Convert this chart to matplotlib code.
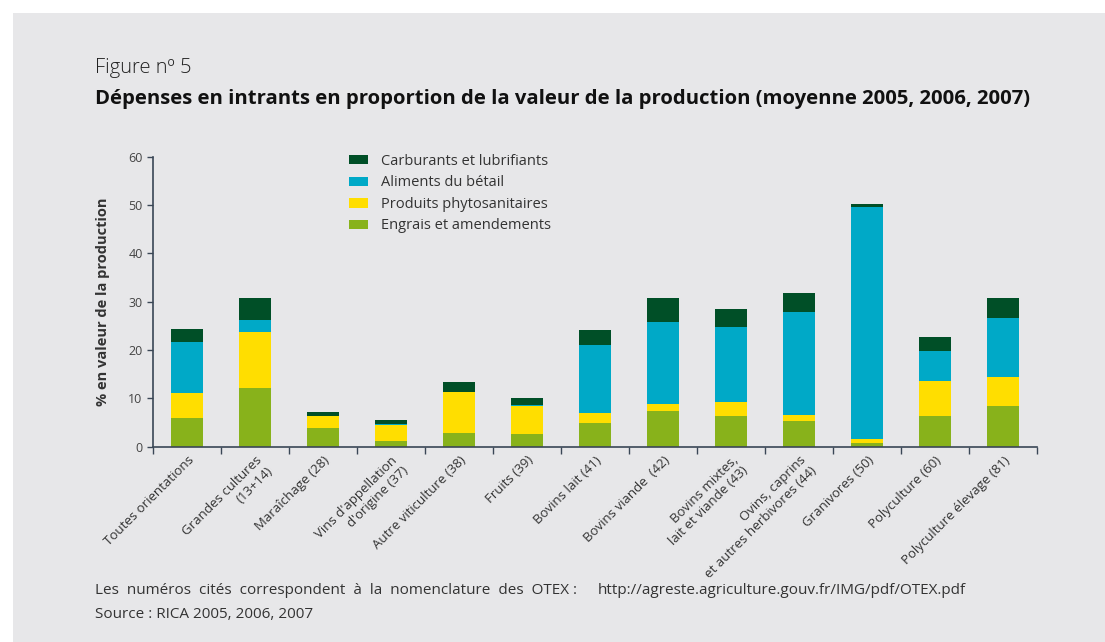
import numpy as np
import matplotlib.pyplot as plt
from matplotlib.patches import Rectangle

# categories (OTEX)
categories = ['Toutes orientations', 'Grandes cultures\n(13+14)', 'Maraîchage (28)',
              "Vins d'appellation\nd'origine (37)", 'Autre viticulture (38)', 'Fruits (39)',
              'Bovins lait (41)', 'Bovins viande  (42)', 'Bovins mixtes,\nlait et viande (43)',
              'Ovins, caprins\net autres herbivores (44)', 'Granivores (50)',
              'Polyculture (60)', 'Polyculture élevage (81)']

# % of production value
engrais = [6.0, 12.1, 3.9, 1.2, 2.8, 2.6, 4.9, 7.4, 6.35, 5.3, 0.8, 6.35, 8.4]
phyto = [5.1, 11.6, 2.5, 3.3, 8.5, 5.9, 2.1, 1.45, 2.9, 1.25, 0.8, 7.25, 6.0]
aliments = [10.6, 2.5, 0.0, 0.2, 0.0, 0.2, 14.0, 16.95, 15.5, 21.3, 47.95, 6.2, 12.2]
carburants = [2.7, 4.5, 0.8, 0.8, 2.1, 1.4, 3.1, 4.95, 3.75, 3.95, 0.65, 2.9, 4.15]

series = [('Engrais et amendements', engrais, '#88b21b'),
          ('Produits phytosanitaires', phyto, '#ffde00'),
          ('Aliments du bétail', aliments, '#00a9c7'),
          ('Carburants et lubrifiants', carburants, '#004f27')]

plt.rcParams['font.family'] = ['Open Sans', 'DejaVu Sans']
bg = '#e7e7e9'
txt = '#333333'
axcol = '#3a4756'

fig = plt.figure(figsize=(11.05, 6.42), dpi=100)
fig.patch.set_facecolor('white')
fig.patches.append(Rectangle((13 / 1105, 0), 1, 1 - 13 / 642, transform=fig.transFigure,
                             facecolor=bg, edgecolor='none', zorder=-10))

ax = fig.add_axes([153 / 1105, 195.3 / 642, 884 / 1105, 290 / 642])
ax.set_facecolor(bg)

x = np.arange(len(categories))
bottom = np.zeros(len(categories))
handles = []
for name, vals, col in series:
    b = ax.bar(x, vals, 0.46, bottom=bottom, color=col, label=name, zorder=2)
    handles.append(b)
    bottom += np.array(vals)

ax.set_xlim(-0.5, len(categories) - 0.5)
ax.set_ylim(0, 60)
ax.set_yticks(range(0, 61, 10))
ax.tick_params(axis='y', labelsize=9, colors=axcol, labelcolor='#444444', length=4, width=1)

ax.set_xticks(x)
ax.set_xticklabels(categories, rotation=45, ha='right', rotation_mode='anchor',
                   fontsize=9.5, color=txt, multialignment='right')
ax.tick_params(axis='x', length=0, pad=5)
ax.set_xticks(np.arange(-0.5, len(categories)), minor=True)
ax.tick_params(axis='x', which='minor', length=5, width=1, colors=axcol, direction='out')

for s in ['top', 'right']:
    ax.spines[s].set_visible(False)
for s in ['left', 'bottom']:
    ax.spines[s].set_color(axcol)
    ax.spines[s].set_linewidth(1.2)

ax.set_ylabel('% en valeur de la production', fontsize=10.5, fontweight='bold', color=txt, labelpad=13)

ax.legend(handles[::-1], [h.get_label() for h in handles[::-1]], loc='upper left',
          bbox_to_anchor=(0.222, 1.01), frameon=False, fontsize=10.5, labelcolor=txt,
          borderpad=0, borderaxespad=0, handlelength=1.3, handleheight=0.62,
          labelspacing=0.45, handletextpad=0.9)

fig.text(95 / 1105, 1 - 68 / 642, 'Figure nº 5', fontsize=14.5, fontweight='light',
         color='#222222', va='center')
fig.text(95 / 1105, 1 - 99 / 642,
         'Dépenses en intrants en proportion de la valeur de la production (moyenne 2005, 2006, 2007)',
         fontsize=14.6, fontweight='bold', color='#111111', va='center')

fig.text(95 / 1105, 1 - 590 / 642,
         'Les  numéros  cités  correspondent  à  la  nomenclature  des  OTEX :',
         fontsize=11, color=txt, va='center')
fig.text(966 / 1105, 1 - 590 / 642, 'http://agreste.agriculture.gouv.fr/IMG/pdf/OTEX.pdf',
         fontsize=11, color=txt, va='center', ha='right')
fig.text(95 / 1105, 1 - 614 / 642, 'Source : RICA 2005, 2006, 2007', fontsize=11, color=txt, va='center')

fig.savefig('out.png', dpi=100, facecolor=fig.get_facecolor())
